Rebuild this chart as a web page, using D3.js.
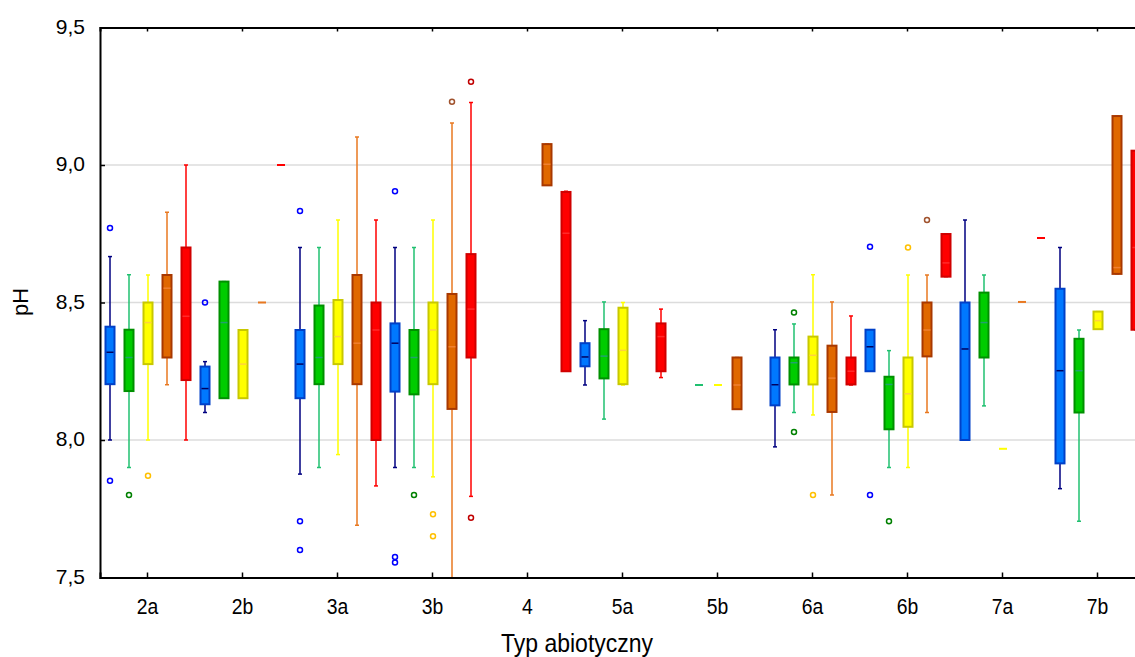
<!DOCTYPE html>
<html>
<head>
<meta charset="utf-8">
<script src="https://cdn.jsdelivr.net/npm/d3@7"></script>
<style>
  body { margin: 0; background: #fff; }
  svg { display: block; }
</style>
</head>
<body>
<svg width="1135" height="657"></svg>
<script>
// categories (abiotic types) and series order inside each group
var categories = ['2a', '2b', '3a', '3b', '4', '5a', '5b', '6a', '6b', '7a', '7b'];
var seriesNames = ['blue', 'green', 'yellow', 'orange', 'red'];
var yTicks = [7.5, 8.0, 8.5, 9.0, 9.5];

// each box: [whisker low, q1, median, q3, whisker high], null = no data
var blueBoxes = [
  [8.00, 8.203, 8.319, 8.412, 8.667],
  [8.10, 8.13, 8.187, 8.267, 8.285],
  [7.876, 8.152, 8.276, 8.40, 8.70],
  [7.90, 8.176, 8.352, 8.424, 8.70],
  null,
  [8.20, 8.268, 8.302, 8.352, 8.434],
  null,
  [7.975, 8.126, 8.201, 8.30, 8.401],
  [8.25, 8.25, 8.339, 8.401, 8.401],
  [8.00, 8.00, 8.331, 8.50, 8.80],
  [7.823, 7.915, 8.252, 8.55, 8.70]
];
var greenBoxes = [
  [7.90, 8.178, 8.30, 8.401, 8.601],
  [8.152, 8.152, 8.427, 8.576, 8.576],
  [7.90, 8.203, 8.30, 8.489, 8.70],
  [7.90, 8.166, 8.30, 8.40, 8.70],
  null,
  [8.076, 8.224, 8.305, 8.403, 8.502],
  [8.20, 8.20, 8.20, 8.20, 8.20],
  [8.10, 8.202, 8.281, 8.30, 8.422],
  [7.90, 8.039, 8.202, 8.230, 8.325],
  [8.124, 8.30, 8.427, 8.536, 8.60],
  [7.705, 8.10, 8.252, 8.368, 8.40]
];
var yellowBoxes = [
  [8.00, 8.276, 8.427, 8.50, 8.60],
  [8.152, 8.152, 8.276, 8.40, 8.40],
  [7.947, 8.276, 8.376, 8.509, 8.80],
  [7.866, 8.203, 8.40, 8.50, 8.80],
  null,
  [8.20, 8.203, 8.326, 8.481, 8.50],
  [8.20, 8.20, 8.20, 8.20, 8.20],
  [8.091, 8.202, 8.308, 8.376, 8.601],
  [7.90, 8.048, 8.168, 8.30, 8.60],
  [7.968, 7.968, 7.968, 7.968, 7.968],
  [8.403, 8.403, 8.434, 8.467, 8.467]
];
var orangeBoxes = [
  [8.201, 8.30, 8.552, 8.60, 8.828],
  [8.50, 8.50, 8.50, 8.50, 8.50],
  [7.69, 8.203, 8.352, 8.60, 9.102],
  [7.40, 8.113, 8.339, 8.531, 9.153],
  [8.926, 8.926, 9.003, 9.076, 9.076],
  null,
  [8.112, 8.112, 8.20, 8.30, 8.30],
  [7.80, 8.102, 8.225, 8.343, 8.502],
  [8.10, 8.304, 8.40, 8.50, 8.60],
  [8.502, 8.502, 8.502, 8.502, 8.502],
  [8.604, 8.604, 8.627, 9.178, 9.178]
];
var redBoxes = [
  [8.00, 8.218, 8.45, 8.70, 9.00],
  [9.00, 9.00, 9.00, 9.00, 9.00],
  [7.833, 8.00, 8.40, 8.50, 8.80],
  [7.795, 8.30, 8.476, 8.676, 9.227],
  [8.25, 8.25, 8.752, 8.902, 8.905],
  [8.227, 8.25, 8.376, 8.424, 8.476],
  null,
  [8.20, 8.202, 8.25, 8.30, 8.451],
  [8.594, 8.594, 8.644, 8.749, 8.749],
  [8.735, 8.735, 8.735, 8.735, 8.735],
  [8.401, 8.401, 8.70, 9.052, 9.052]
];

// outliers per category
var blueOutliers = [[8.771, 7.852], [8.50], [8.833, 7.705, 7.60], [8.905, 7.575, 7.555], [], [], [], [], [8.703, 7.80], [], []];
var greenOutliers = [[7.80], [], [], [7.80], [], [], [], [8.464, 8.029], [7.705], [], []];
var yellowOutliers = [[7.87], [], [], [7.73, 7.65], [], [], [], [7.80], [8.70], [], []];
var orangeOutliers = [[], [], [], [9.23], [], [], [], [], [8.80], [], []];
var redOutliers = [[], [], [], [9.303, 7.717], [], [], [], [], [], [], []];

var styles = {
  blue:   { fill: '#0078ff', edge: '#0040c8', whisker: '#000080', median: '#000060', outlier: '#0000ff' },
  green:  { fill: '#00cc00', edge: '#009000', whisker: '#20c070', median: '#20a070', outlier: '#008000' },
  yellow: { fill: '#ffff00', edge: '#c8c800', whisker: '#ffff00', median: '#ffd040', outlier: '#ffc000' },
  orange: { fill: '#e06800', edge: '#a83800', whisker: '#e87820', median: '#f08030', outlier: '#a0522d' },
  red:    { fill: '#ff0000', edge: '#d00000', whisker: '#ff0000', median: '#ff2a2a', outlier: '#c00000' }
};

var plotLeft = 100, plotRight = 1145, plotTop = 27.5, plotBottom = 577.5;
var FONT = 'Liberation Sans, Arial, sans-serif';

var svg = d3.select('svg');

var x = d3.scaleBand().domain(categories).range([plotLeft, plotRight]);
var xs = d3.scaleBand().domain(seriesNames).range([-x.bandwidth() / 2, x.bandwidth() / 2]);
var y = d3.scaleLinear().domain([7.5, 9.5]).range([plotBottom, plotTop]);

main();

function main() {
  svg.append('defs').append('clipPath').attr('id', 'plot')
    .append('rect').attr('x', plotLeft).attr('y', plotTop)
    .attr('width', plotRight - plotLeft).attr('height', plotBottom - plotTop);

  // grid
  svg.append('g').selectAll('line').data([8.0, 8.5, 9.0]).join('line')
    .attr('x1', plotLeft).attr('x2', 1135)
    .attr('y1', d => y(d)).attr('y2', d => y(d))
    .attr('stroke', '#dcdcdc').attr('stroke-width', 1.5);

  var plot = svg.append('g').attr('clip-path', 'url(#plot)');

  var boxes = { blue: blueBoxes, green: greenBoxes, yellow: yellowBoxes, orange: orangeBoxes, red: redBoxes };
  var outliers = { blue: blueOutliers, green: greenOutliers, yellow: yellowOutliers, orange: orangeOutliers, red: redOutliers };

  seriesNames.forEach(s => {
    drawSeries(plot, s, boxes[s], outliers[s], styles[s]);
  });

  drawAxes();
}

function drawSeries(g, name, data, outs, st) {
  var w = 9;
  categories.forEach((c, i) => {
    var cx = Math.round(x(c) + x.bandwidth() / 2 + xs(name) + xs.bandwidth() / 2);
    var b = data[i];
    if (b) {
      var single = b[0] === b[4];
      if (single) {
        g.append('line')
          .attr('x1', cx - 4).attr('x2', cx + 4)
          .attr('y1', y(b[2])).attr('y2', y(b[2]))
          .attr('stroke', st.whisker).attr('stroke-width', 2);
      } else {
        // whisker
        g.append('line')
          .attr('x1', cx).attr('x2', cx)
          .attr('y1', y(b[0])).attr('y2', y(b[4]))
          .attr('stroke', st.whisker).attr('stroke-width', 1.5);
        [b[0], b[4]].forEach(v => {
          g.append('line')
            .attr('x1', cx - 2).attr('x2', cx + 2)
            .attr('y1', y(v)).attr('y2', y(v))
            .attr('stroke', st.whisker).attr('stroke-width', 1.5);
        });
        // box
        g.append('rect')
          .attr('x', cx - w / 2).attr('width', w)
          .attr('y', y(b[3])).attr('height', Math.max(y(b[1]) - y(b[3]), 1))
          .attr('fill', st.fill).attr('stroke', st.edge).attr('stroke-width', 2);
        // median
        g.append('line')
          .attr('x1', cx - w / 2 + 1).attr('x2', cx + w / 2 - 1)
          .attr('y1', y(b[2])).attr('y2', y(b[2]))
          .attr('stroke', st.median).attr('stroke-width', 1.5);
      }
    }
    outs[i].forEach(v => {
      g.append('circle')
        .attr('cx', cx).attr('cy', y(v)).attr('r', 2.5)
        .attr('fill', 'none').attr('stroke', st.outlier).attr('stroke-width', 1.5);
    });
  });
}

function drawAxes() {
  var yAxis = d3.axisLeft(y)
    .tickValues(yTicks)
    .tickSize(-5)
    .tickPadding(15)
    .tickFormat(d => d3.format('.1f')(d).replace('.', ','));

  var gy = svg.append('g').attr('transform', 'translate(' + plotLeft + ',0)').call(yAxis);
  gy.select('.domain').attr('stroke', '#000').attr('stroke-width', 2);
  gy.selectAll('.tick line').attr('stroke', '#000').attr('stroke-width', 1.5);
  gy.selectAll('text').attr('font-family', FONT)
    .attr('font-size', 21).attr('fill', '#000')
    .attr('transform', 'translate(0,-1)');

  var xAxis = d3.axisBottom(x).tickSize(-5).tickPadding(0);
  var gx = svg.append('g').attr('transform', 'translate(0,' + plotBottom + ')').call(xAxis);
  gx.select('.domain').attr('stroke', '#000').attr('stroke-width', 2);
  gx.selectAll('.tick line').attr('stroke', '#000').attr('stroke-width', 1.5);
  gx.selectAll('text')
    .attr('font-family', FONT)
    .attr('font-size', 22).attr('fill', '#000')
    .attr('y', 0).attr('dy', 0)
    .attr('transform', 'translate(0,36) scale(0.88,1)');

  var topAxis = d3.axisTop(x).tickSize(-4).tickFormat('');
  var gt = svg.append('g').attr('transform', 'translate(0,' + plotTop + ')').call(topAxis);
  gt.select('.domain').attr('stroke', '#000').attr('stroke-width', 2);
  gt.selectAll('.tick line').attr('stroke', '#000').attr('stroke-width', 1.5);

  svg.append('text')
    .attr('transform', 'translate(577,652) scale(0.92,1)')
    .attr('text-anchor', 'middle')
    .attr('font-family', FONT)
    .attr('font-size', 25)
    .text('Typ abiotyczny');

  svg.append('text')
    .attr('transform', 'translate(28,302) rotate(-90)')
    .attr('text-anchor', 'middle')
    .attr('font-family', FONT)
    .attr('font-size', 22)
    .text('pH');
}
</script>
</body>
</html>
